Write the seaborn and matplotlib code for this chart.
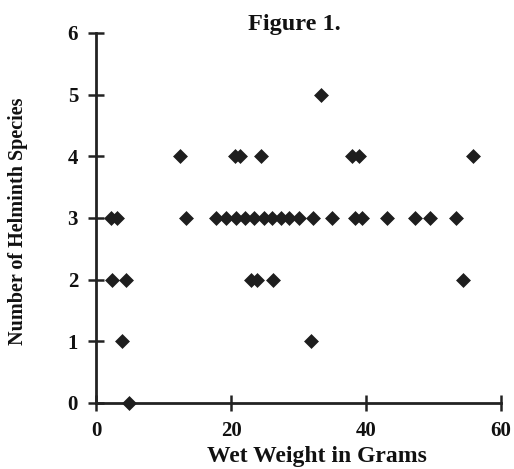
import matplotlib
matplotlib.use("Agg")
import matplotlib.pyplot as plt
import seaborn as sns
import pandas as pd

# Data
weight_3 = [2.2, 3.1, 13.3, 17.7, 19.2, 20.7, 22.0, 23.4, 24.8, 26.1, 27.4, 28.6,
            30.0, 32.2, 34.9, 38.4, 39.4, 43.1, 47.3, 49.5, 53.3]
weight_4 = [12.4, 20.5, 21.3, 24.4, 37.9, 38.9, 55.8]
weight_5 = [33.3]
weight_2 = [2.3, 4.4, 22.9, 23.9, 26.2, 54.3]
weight_1 = [3.8, 31.9]
weight_0 = [4.8]

weights = weight_0 + weight_1 + weight_2 + weight_3 + weight_4 + weight_5
species = ([0] * len(weight_0) + [1] * len(weight_1) + [2] * len(weight_2)
           + [3] * len(weight_3) + [4] * len(weight_4) + [5] * len(weight_5))
df = pd.DataFrame({"weight": weights, "species": species})

x_ticks = [0, 20, 40, 60]
y_ticks = [0, 1, 2, 3, 4, 5, 6]

sns.set_style("white")
plt.rcParams['font.family'] = ['Liberation Serif', 'DejaVu Serif']
plt.rcParams['font.weight'] = 'bold'

fig = plt.figure(figsize=(5.14, 4.69), dpi=100)
ax = fig.add_axes([0.187, 0.141, 0.788, 0.789])

sns.scatterplot(data=df, x="weight", y="species", marker="D", s=50,
                color="#1e1e1e", edgecolor="#1e1e1e", linewidth=0.5,
                ax=ax, clip_on=False, zorder=3)

ax.set_xlim(0, 60)
ax.set_ylim(0, 6)
ax.set_xticks(x_ticks)
ax.set_yticks(y_ticks)
ax.set_xticklabels([str(v) for v in x_ticks], fontsize=15, fontweight='bold')
ax.set_yticklabels([str(v) for v in y_ticks], fontsize=15, fontweight='bold')
ax.tick_params(axis='both', bottom=True, left=True, direction='inout',
               length=12, width=1.8, color='#222222', labelcolor='#111111')
ax.tick_params(axis='x', pad=7)
ax.tick_params(axis='y', pad=7)

for side in ['top', 'right']:
    ax.spines[side].set_visible(False)
for side in ['left', 'bottom']:
    ax.spines[side].set_linewidth(2)
    ax.spines[side].set_color('#222222')

ax.set_xlabel("Wet Weight in Grams", fontsize=17, fontweight='bold', color='#111111')
ax.xaxis.set_label_coords(0.546, -0.116)
ax.set_ylabel("Number of Helminth Species", fontsize=14.5, fontweight='bold', color='#111111')
ax.yaxis.set_label_coords(-0.168, 0.49)
ax.set_title("Figure 1.", fontsize=17.5, fontweight='bold', color='#111111', x=0.49, pad=2)

fig.savefig("out.png", dpi=100, facecolor='white')
